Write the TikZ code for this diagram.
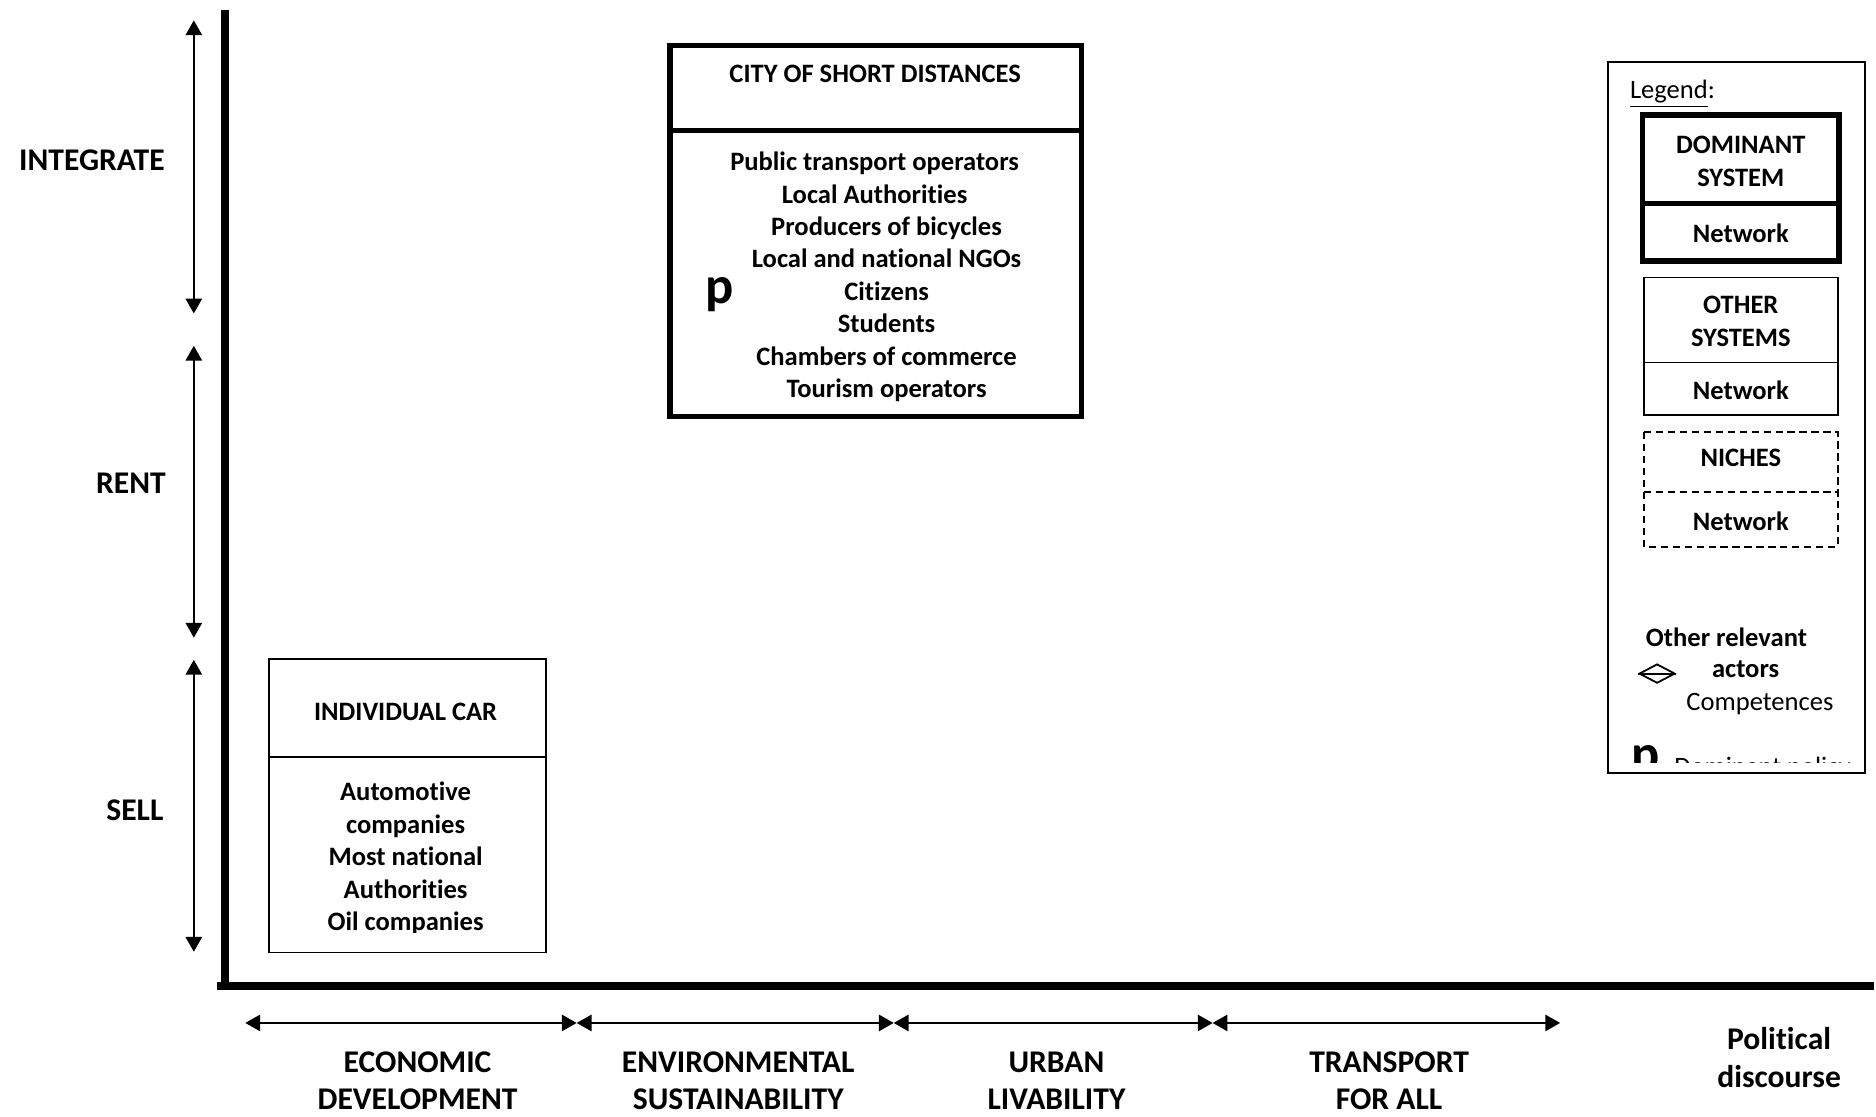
\documentclass[tikz,border=0pt]{standalone}
\usepackage{fontspec}
\setmainfont{Carlito}[RawFeature={-liga;-clig}]
\usetikzlibrary{arrows.meta,shapes.geometric}
\begin{document}
\begin{tikzpicture}[x=0.5pt,y=-0.5pt,
  lbl/.style={font=\fontsize{11.1}{13.57}\selectfont\bfseries, align=center, inner sep=0},
  reg/.style={font=\fontsize{11.1}{13.57}\selectfont, align=center, inner sep=0},
  big/.style={font=\fontsize{13.2}{15.6}\selectfont\bfseries, align=center, inner sep=0},
  pol/.style={font=\fontsize{22}{26}\selectfont\bfseries, inner sep=0},
  dbl/.style={{Triangle[length=6.2pt,width=6.8pt]}-{Triangle[length=6.2pt,width=6.8pt]}, line width=0.85pt},
  axisline/.style={line width=3.1pt},
  thickbox/.style={draw, line width=2.1pt},
  heavybox/.style={draw, line width=2.3pt},
  thinbox/.style={draw, line width=0.7pt},
  dashbox/.style={draw, line width=0.7pt, dash pattern=on 3pt off 2pt},
]
\useasboundingbox (0,0) rectangle (1568,932.8);

% axes
\coordinate (vtop) at (188,8);
\coordinate (origin) at (188,824);
\coordinate (hend) at (1566,824);
\draw[axisline] (vtop) -- (188,827);
\draw[axisline] (181,824) -- (hend);

% vertical double arrows
\coordinate (i1) at (162,17);   \coordinate (i2) at (162,262);
\coordinate (r1) at (162,289);  \coordinate (r2) at (162,533);
\coordinate (s1) at (162,551.5);\coordinate (s2) at (162,795.5);
\draw[dbl] (i1) -- (i2);
\draw[dbl] (r1) -- (r2);
\draw[dbl] (s1) -- (s2);
\node[big, anchor=east] (integrate) at (138,134) {INTEGRATE};
\node[big, anchor=east] (rent) at (139,404) {RENT};
\node[big, anchor=east] (sell) at (137,677) {SELL};

% horizontal double arrows
\coordinate (h0) at (205,855);
\coordinate (h1) at (482,855);
\coordinate (h2) at (747,855);
\coordinate (h3) at (1013.5,855);
\coordinate (h4) at (1304,855);
\draw[dbl] (h0) -- (h1);
\draw[dbl] (h1) -- (h2);
\draw[dbl] (h2) -- (h3);
\draw[dbl] (h3) -- (h4);
\node[big] (econ) at (349,903.5) {ECONOMIC\\DEVELOPMENT};
\node[big] (env) at (617,903.5) {ENVIRONMENTAL\\SUSTAINABILITY};
\node[big] (urban) at (883,903.5) {URBAN\\LIVABILITY};
\node[big] (tfa) at (1161,903.5) {TRANSPORT\\FOR ALL};
\node[big] (pold) at (1487,884) {Political\\discourse};

% city of short distances
\draw[thickbox] (560,38) rectangle (904,348);
\draw[thickbox] (560,109) -- (904,109);
\node[lbl] (cityt) at (731.5,62) {CITY OF SHORT DISTANCES};
\node[lbl] (citylist) at (741,231.5) {Public transport operators\rule{10pt}{0pt}\\Local Authorities\rule{10pt}{0pt}\\Producers of bicycles\\Local and national NGOs\\Citizens\\Students\\Chambers of commerce\\Tourism operators};
\node[pol, anchor=base] (cityp) at (601.5,253.5) {p};

% individual car
\draw[thinbox] (225,551) rectangle (456.5,796);
\draw[thinbox] (225,632.5) -- (456.5,632.5);
\node[lbl] (cart) at (339,595) {INDIVIDUAL CAR};
\begin{scope}
\clip (225,633) rectangle (456,779);
\node[lbl] (carlist) at (339,717.5) {Automotive\\companies\\Most national\\Authorities\\Oil companies};
\end{scope}

% legend
\draw[thinbox] (1344,52) rectangle (1559,646);
\node[reg, anchor=base west] (legt) at (1362,82) {\underline{Legend}:};
\draw[heavybox] (1373,96) rectangle (1537,218);
\draw[heavybox] (1373,170) -- (1537,170);
\node[lbl] (domt) at (1455,135) {DOMINANT\\SYSTEM};
\node[lbl] (domn) at (1455,195) {Network};
\draw[thinbox] (1374,232) rectangle (1536,347);
\draw[thinbox] (1374,303) -- (1536,303);
\node[lbl] (otht) at (1455,268.5) {OTHER\\SYSTEMS};
\node[lbl] (othn) at (1455,326) {Network};
\draw[dashbox] (1374,361) rectangle (1536,457);
\draw[dashbox] (1374,411) -- (1536,411);
\node[lbl] (nict) at (1455,383) {NICHES};
\node[lbl] (nicn) at (1455,436) {Network};
\node[lbl, anchor=base] (ora) at (1443,540) {Other relevant};
\node[lbl, anchor=base] (orb) at (1459,566.5) {actors};
\node[reg, anchor=base] (comp) at (1471,594) {Competences};
\node[diamond, draw, line width=0.75pt, minimum width=15pt, minimum height=8pt, inner sep=0] (dia) at (1385,563) {};
\draw[line width=0.75pt] (dia.west) -- (dia.east);
\begin{scope}
\clip (1345,53) rectangle (1558,637.5);
\node[pol, anchor=base west] (legp) at (1363,645) {p};
\node[reg, anchor=base west] (legdp) at (1399,648) {Dominant policy};
\end{scope}
\end{tikzpicture}
\end{document}
